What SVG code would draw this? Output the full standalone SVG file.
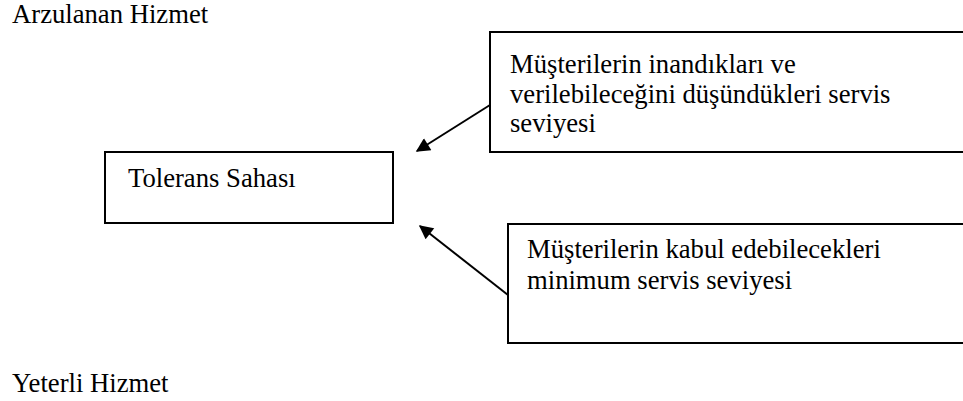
<svg xmlns="http://www.w3.org/2000/svg" width="963" height="401" viewBox="0 0 963 401">
<defs>
<style>
.box{fill:#fff;stroke:#000;stroke-width:2}
.conn{stroke:#000;stroke-width:2;fill:none}
.t{font-family:"Liberation Serif","Times New Roman",serif;font-size:26.67px;fill:#000}
</style>
<marker id="ah" viewBox="0 0 10 10" refX="9" refY="5" markerWidth="8" markerHeight="7" markerUnits="strokeWidth" orient="auto">
<path d="M0,0 L10,5 L0,10 z" fill="#000"/>
</marker>
</defs>
<rect width="963" height="401" fill="#fff"/>
<g id="label-arzulanan"><text class="t" x="12" y="23">Arzulanan Hizmet</text></g>
<g id="label-yeterli"><text class="t" x="12" y="392">Yeterli Hizmet</text></g>
<g id="node-tolerans">
<rect class="box" x="105" y="152" width="288" height="71"/>
<text class="t" x="128" y="187">Tolerans Sahası</text>
</g>
<g id="node-arzulanan">
<rect class="box" x="490" y="32" width="480" height="120"/>
<text class="t" x="510" y="73">Müşterilerin inandıkları ve</text>
<text class="t" x="510" y="103">verilebileceğini düşündükleri servis</text>
<text class="t" x="510" y="132">seviyesi</text>
</g>
<g id="node-yeterli">
<rect class="box" x="508" y="224" width="470" height="119"/>
<text class="t" x="527" y="258">Müşterilerin kabul edebilecekleri</text>
<text class="t" x="527" y="289">minimum servis seviyesi</text>
</g>
<g id="connectors">
<line class="conn" x1="490" y1="105" x2="417" y2="151" marker-end="url(#ah)"/>
<line class="conn" x1="508" y1="295" x2="420" y2="226" marker-end="url(#ah)"/>
</g>
</svg>
